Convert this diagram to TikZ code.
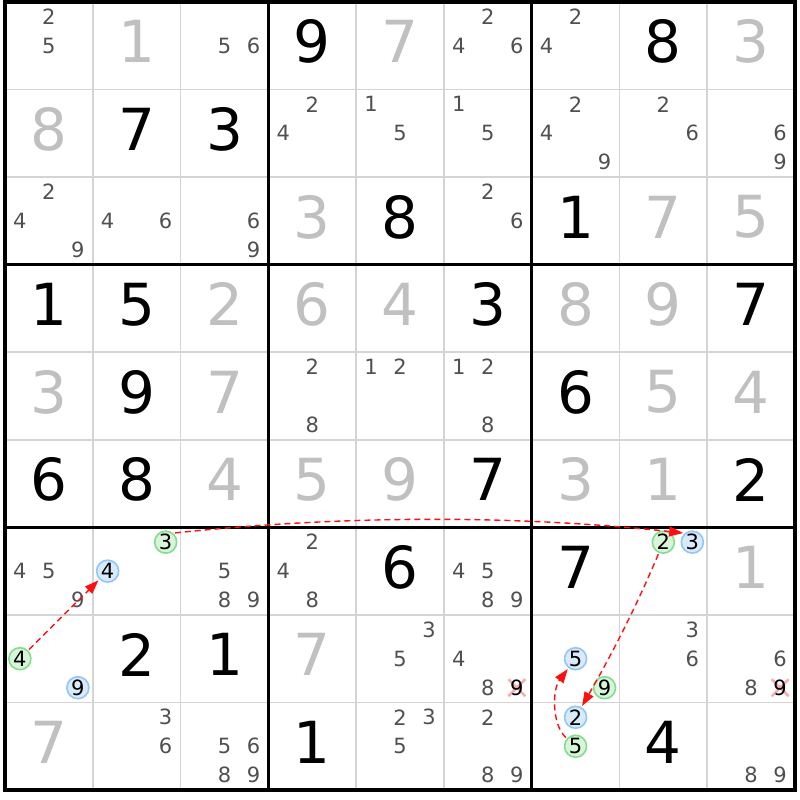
\documentclass[tikz,border=0pt]{standalone}
\usepackage{fontspec}
\setmainfont{DejaVu Sans}
\usetikzlibrary{arrows.meta}
\definecolor{candgrey}{HTML}{505050}
\definecolor{givgrey}{HTML}{C0C0C0}
\definecolor{gridgrey}{HTML}{D4D4D4}
\definecolor{grfill}{HTML}{D8F5DA}
\definecolor{grline}{HTML}{84DC8C}
\definecolor{blfill}{HTML}{D8EAFC}
\definecolor{blline}{HTML}{92C6F5}
\definecolor{xpink}{HTML}{F4A0A8}
\definecolor{linkred}{HTML}{FF1010}
\tikzset{
  cand/.style={font=\fontsize{21}{21}\selectfont, text=candgrey, inner sep=0pt},
  candx/.style={font=\fontsize{21}{21}\selectfont, text=black, inner sep=0pt},
  candon/.style={font=\fontsize{21}{21}\selectfont, text=black, inner sep=0pt,
    circle, minimum size=22pt, line width=1.6pt, outer sep=2pt},
  grcirc/.style={candon, draw=grline, fill=grfill},
  blcirc/.style={candon, draw=blline, fill=blfill},
  gb/.style={font=\fontsize{58}{58}\selectfont, text=black, inner sep=0pt},
  gg/.style={font=\fontsize{58}{58}\selectfont, text=givgrey, inner sep=0pt},
  gridthin/.style={draw=gridgrey, line width=1.7pt},
  gridthick/.style={draw=black, line width=3.2pt},
  xline/.style={draw=xpink, line width=2.6pt, opacity=0.85},
  link/.style={draw=linkred, dash pattern=on 6pt off 4pt, line width=1.4pt,
    -{Triangle[length=14pt,width=10pt]}},
}
\newcommand\given[4]{%
  \node[#4] (g#1#2) at ({5+(#2-0.5)*87.78},{2+(#1-0.5)*87.56-4}) {#3};}
\newcommand\cands[3]{%
  \foreach \d in {#3}{%
    \node[cand] (c#1#2\d) at ({5+(#2-0.5)*87.78+(mod(\d-1,3)-1)*29},{2+(#1-0.5)*87.56+(floor((\d-1)/3)-1)*29}) {\d};}}
\newcommand\ccand[4]{%
  \node[#4] (c#1#2#3) at ({5+(#2-0.5)*87.78+(mod(#3-1,3)-1)*29},{2+(#1-0.5)*87.56+(floor((#3-1)/3)-1)*29}) {#3};}
\newcommand\xcand[3]{%
  \coordinate (x#1#2) at ({5+(#2-0.5)*87.78+(mod(#3-1,3)-1)*29},{2+(#1-0.5)*87.56+(floor((#3-1)/3)-1)*29});
  \draw[xline] ([shift={(-8.5,-8.5)}]x#1#2) -- ([shift={(8.5,8.5)}]x#1#2);
  \draw[xline] ([shift={(-8.5,8.5)}]x#1#2) -- ([shift={(8.5,-8.5)}]x#1#2);
  \node[candx] (c#1#2#3) at (x#1#2) {#3};}
\begin{document}
\begin{tikzpicture}[x=1pt,y=-1pt]
\useasboundingbox[fill=white] (0,0) rectangle (800,800);
% grid
\foreach \i in {1,2,4,5,7,8}{
  \draw[gridthin] ({5+\i*87.78},2) -- ({5+\i*87.78},790);
  \draw[gridthin] (5,{2+\i*87.56}) -- (795,{2+\i*87.56});
}
\foreach \i in {3,6}{
  \draw[gridthick] ({5+\i*87.78},2) -- ({5+\i*87.78},790);
  \draw[gridthick] (5,{2+\i*87.56}) -- (795,{2+\i*87.56});
}
\draw[gridthick] (5,2) rectangle (795,790);
% givens
\given{1}{2}{1}{gg}\given{1}{4}{9}{gb}\given{1}{5}{7}{gg}\given{1}{8}{8}{gb}\given{1}{9}{3}{gg}
\given{2}{1}{8}{gg}\given{2}{2}{7}{gb}\given{2}{3}{3}{gb}
\given{3}{4}{3}{gg}\given{3}{5}{8}{gb}\given{3}{7}{1}{gb}\given{3}{8}{7}{gg}\given{3}{9}{5}{gg}
\given{4}{1}{1}{gb}\given{4}{2}{5}{gb}\given{4}{3}{2}{gg}\given{4}{4}{6}{gg}\given{4}{5}{4}{gg}
\given{4}{6}{3}{gb}\given{4}{7}{8}{gg}\given{4}{8}{9}{gg}\given{4}{9}{7}{gb}
\given{5}{1}{3}{gg}\given{5}{2}{9}{gb}\given{5}{3}{7}{gg}\given{5}{7}{6}{gb}\given{5}{8}{5}{gg}\given{5}{9}{4}{gg}
\given{6}{1}{6}{gb}\given{6}{2}{8}{gb}\given{6}{3}{4}{gg}\given{6}{4}{5}{gg}\given{6}{5}{9}{gg}
\given{6}{6}{7}{gb}\given{6}{7}{3}{gg}\given{6}{8}{1}{gg}\given{6}{9}{2}{gb}
\given{7}{5}{6}{gb}\given{7}{7}{7}{gb}\given{7}{9}{1}{gg}
\given{8}{2}{2}{gb}\given{8}{3}{1}{gb}\given{8}{4}{7}{gg}
\given{9}{1}{7}{gg}\given{9}{4}{1}{gb}\given{9}{8}{4}{gb}
% candidates
\cands{1}{1}{2,5}\cands{1}{3}{5,6}\cands{1}{6}{2,4,6}\cands{1}{7}{2,4}
\cands{2}{4}{2,4}\cands{2}{5}{1,5}\cands{2}{6}{1,5}\cands{2}{7}{2,4,9}\cands{2}{8}{2,6}\cands{2}{9}{6,9}
\cands{3}{1}{2,4,9}\cands{3}{2}{4,6}\cands{3}{3}{6,9}\cands{3}{6}{2,6}
\cands{5}{4}{2,8}\cands{5}{5}{1,2}\cands{5}{6}{1,2,8}
\cands{7}{1}{4,5,9}\cands{7}{3}{5,8,9}\cands{7}{4}{2,4,8}\cands{7}{6}{4,5,8,9}
\cands{8}{5}{3,5}\cands{8}{6}{4,8}\cands{8}{8}{3,6}\cands{8}{9}{6,8}
\cands{9}{2}{3,6}\cands{9}{3}{5,6,8,9}\cands{9}{5}{2,3,5}\cands{9}{6}{2,8,9}\cands{9}{9}{8,9}
\xcand{8}{6}{9}\xcand{8}{9}{9}
% circled candidates
\ccand{7}{2}{3}{grcirc}\ccand{7}{2}{4}{blcirc}
\ccand{7}{8}{2}{grcirc}\ccand{7}{8}{3}{blcirc}
\ccand{8}{1}{4}{grcirc}\ccand{8}{1}{9}{blcirc}
\ccand{8}{7}{5}{blcirc}\ccand{8}{7}{9}{grcirc}
\ccand{9}{7}{2}{blcirc}\ccand{9}{7}{5}{grcirc}
% links
\draw[link] (c814) -- (c724);
\draw[link] (c723.45) .. controls (345,515) and (515,515) .. (c783.135);
\draw[link] (c782) .. controls (637,605) and (612,654) .. (c972);
\draw[link] (c975) .. controls (552,725) and (552,690) .. (c875);
\end{tikzpicture}
\end{document}
